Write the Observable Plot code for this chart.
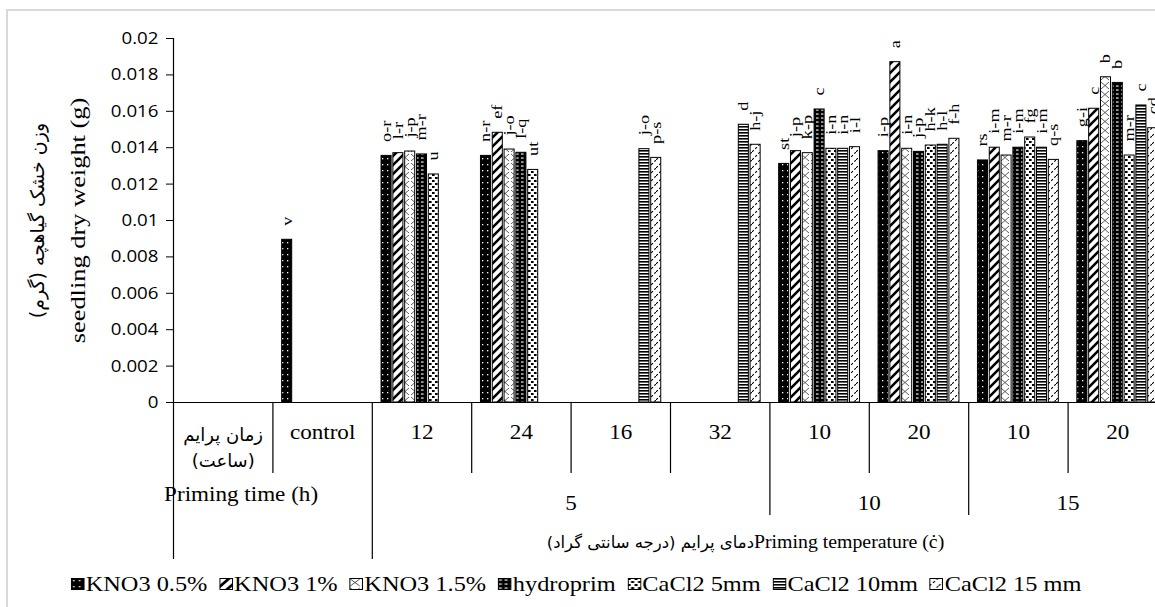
<!DOCTYPE html>
<html>
<head>
<meta charset="utf-8">
<script src="https://cdn.jsdelivr.net/npm/d3@7"></script>
<script src="https://cdn.jsdelivr.net/npm/@observablehq/plot@0.6"></script>
<style>
  html, body { margin: 0; padding: 0; background: #fff; }
  #wrap { position: relative; width: 1155px; height: 607px; overflow: hidden; background: #fff; }
  #chart { position: absolute; left: 0; top: 0; }
  #frame { position: absolute; left: 6px; top: 9px; width: 1400px; height: 800px;
           border-left: 2px solid #d9d9d9; border-top: 2px solid #d9d9d9; pointer-events: none; }
  #legend { position: absolute; left: 0; top: 565px; width: 1155px; height: 38px;
            display: flex; justify-content: center; align-items: center;
            font-family: "Liberation Serif", serif; font-size: 21px; color: #000;
            transform: scaleX(1.16); transform-origin: 587px 50%; white-space: nowrap; }
  .item { display: flex; align-items: center; margin: 0 5px; }
  .item svg { margin-right: 1px; display: block; }
</style>
</head>
<body>
<svg width="0" height="0" style="position:absolute">
  <defs>
    <pattern id="pat0" width="5" height="6" patternUnits="userSpaceOnUse">
      <rect width="5" height="6" fill="#000"/><rect x="2" y="2" width="1.3" height="1.3" fill="#fff"/>
    </pattern>
    <pattern id="pat1" width="9" height="9" patternUnits="userSpaceOnUse">
      <rect width="9" height="9" fill="#fff"/>
      <path d="M-2,2 L2,-2 M0,9 L9,0 M7,11 L11,7" stroke="#000" stroke-width="2.6"/>
    </pattern>
    <pattern id="pat2" width="10" height="9" patternUnits="userSpaceOnUse">
      <rect width="10" height="9" fill="#fff"/>
      <path d="M1,1 L9,8 M9,1 L1,8" stroke="#333" stroke-width="0.8"/>
    </pattern>
    <pattern id="pat3" width="5" height="4" patternUnits="userSpaceOnUse">
      <rect width="5" height="4" fill="#000"/><rect x="1" y="1.5" width="2.6" height="1.1" fill="#fff"/>
    </pattern>
    <pattern id="pat4" width="6" height="6" patternUnits="userSpaceOnUse">
      <rect width="6" height="6" fill="#fff"/>
      <rect x="0" y="0" width="2.6" height="2" fill="#000"/><rect x="3" y="3" width="2.6" height="2" fill="#000"/>
    </pattern>
    <pattern id="pat5" width="4" height="3" patternUnits="userSpaceOnUse">
      <rect width="4" height="3" fill="#fff"/><rect x="0" y="0" width="4" height="1.6" fill="#000"/>
    </pattern>
    <pattern id="pat6" width="8" height="8" patternUnits="userSpaceOnUse">
      <rect width="8" height="8" fill="#fff"/>
      <path d="M0,8 L8,0" stroke="#000" stroke-width="1.1" stroke-dasharray="2.5,2"/>
    </pattern>
  </defs>
</svg>
<div id="wrap"><div id="chart"></div><div id="legend"></div><div id="frame"></div></div>
<script>
// ---------- data ----------
const categoryLabels = ["زمان پرایم\n(ساعت)", "control", "12", "24", "16", "32", "10", "20", "10", "20"];
const temperatureLabels = ["5", "10", "15"];
const temperatureSpans = [[2, 6], [6, 8], [8, 10]];
const series = ["KNO3 0.5%", "KNO3 1%", "KNO3 1.5%", "hydroprim", "CaCl2 5mm", "CaCl2 10mm", "CaCl2 15 mm"];

const kno3_05   = [null, 0.00894, 0.01355, 0.01355, null, null, 0.01311, 0.01381, 0.01330, 0.01436];
const kno3_1    = [null, null, 0.01370, 0.01482, null, null, 0.01381, 0.01870, 0.01400, 0.01614];
const kno3_15   = [null, null, 0.01379, 0.01390, null, null, 0.01370, 0.01394, 0.01357, 0.01787];
const hydroprim = [null, null, 0.01363, 0.01372, null, null, 0.01610, 0.01377, 0.01400, 0.01756];
const cacl2_5   = [null, null, 0.01253, 0.01278, null, null, 0.01394, 0.01412, 0.01456, 0.01357];
const cacl2_10  = [null, null, null, null, 0.01392, 0.01526, 0.01394, 0.01416, 0.01400, 0.01632];
const cacl2_15  = [null, null, null, null, 0.01344, 0.01416, 0.01403, 0.01449, 0.01333, 0.01507];

const kno3_05Letters   = [null, "v", "o-r", "n-r", null, null, "st", "i-p", "rs", "g-i"];
const kno3_1Letters    = [null, null, "l-r", "ef", null, null, "j-p", "a", "i-m", "c"];
const kno3_15Letters   = [null, null, "j-p", "j-o", null, null, "k-p", "i-n", "m-r", "b"];
const hydroprimLetters = [null, null, "m-r", "l-q", null, null, "c", "j-p", "i-m", "b"];
const cacl2_5Letters   = [null, null, "u", "ut", null, null, "i-n", "h-k", "fg", "m-r"];
const cacl2_10Letters  = [null, null, null, null, "j-o", "d", "i-n", "h-l", "i-m", "c"];
const cacl2_15Letters  = [null, null, null, null, "p-s", "h-j", "i-l", "f-h", "q-s", "cd"];

const yTicks = [0, 0.002, 0.004, 0.006, 0.008, 0.01, 0.012, 0.014, 0.016, 0.018, 0.02];
const yTickLabels = ["0", "0.002", "0.004", "0.006", "0.008", "0.01", "0.012", "0.014", "0.016", "0.018", "0.02"];

const yTitle = "seedling dry weight (g)";
const yTitleFa = "وزن خشک گیاهچه (گرم)";
const timeTitle = "Priming time (h)";
const tempTitle = "Priming temperature (ċ)";
const tempTitleFa = "دمای پرایم (درجه سانتی گراد)";

// ---------- build ----------
const values = [kno3_05, kno3_1, kno3_15, hydroprim, cacl2_5, cacl2_10, cacl2_15];
const letters = [kno3_05Letters, kno3_1Letters, kno3_15Letters, hydroprimLetters, cacl2_5Letters, cacl2_10Letters, cacl2_15Letters];
const rows = [];
series.forEach((s, si) => values[si].forEach((v, ci) => {
  if (v != null) rows.push({s, si, ci, v, letter: letters[si][ci]});
}));
const patternUrls = series.map((s, i) => `url(#pat${i})`);

const isFa = s => /[\u0600-\u06FF]/.test(s);
const rtl = s => isFa(s) ? s.split("\n").map(l => "\u200F" + l + "\u200F").join("\n") : s;
const inner = d3.scaleBand().domain(series).range([0, 1]).paddingInner(0.15).paddingOuter(0.784);
const bx1 = d => d.ci + inner(d.s);
const bx2 = d => d.ci + inner(d.s) + inner.bandwidth();
const bxm = d => d.ci + inner(d.s) + inner.bandwidth() / 2;

const shortBounds = [1, 3, 4, 5, 7, 9];
const midBounds = [6, 8];
const longBounds = [2];
const faFont = "'DejaVu Sans', sans-serif";
const serifFont = "'Liberation Serif', serif";

const chart = Plot.plot({
  width: 1155, height: 568,
  marginTop: 38, marginBottom: 166, marginLeft: 173, marginRight: 0,
  style: {fontFamily: serifFont, fontSize: "20px", color: "#000", background: "transparent"},
  x: {domain: [0, 10], range: [173, 1167], axis: null},
  y: {domain: [0, 0.02], axis: null},
  color: {domain: series, range: patternUrls},
  marks: [
    Plot.rect(rows, {x1: bx1, x2: bx2, y1: 0, y2: "v", fill: "s", stroke: "#000", strokeWidth: 1}),
    Plot.axisY({ticks: yTicks, tickFormat: d => yTickLabels[yTicks.indexOf(d)], tickSize: 7, tickPadding: 8,
                fontFamily: "Open Sans", fontSize: 17, label: null, anchor: "left"}),
    Plot.ruleX([0], {y1: 0.02, y2: 0, insetBottom: -157, stroke: "#000", strokeWidth: 1.2}),
    Plot.ruleY([0], {x1: 0, x2: 10, stroke: "#000", strokeWidth: 1.2}),
    Plot.ruleX(shortBounds, {y1: 0, y2: 0, insetBottom: -71, stroke: "#000", strokeWidth: 1.2}),
    Plot.ruleX(midBounds, {y1: 0, y2: 0, insetBottom: -113, stroke: "#000", strokeWidth: 1.2}),
    Plot.ruleX(longBounds, {y1: 0, y2: 0, insetBottom: -157, stroke: "#000", strokeWidth: 1.2}),
    Plot.text(rows.filter(d => d.letter), {x: bxm, y: "v", text: "letter", rotate: -90, textAnchor: "start",
              dy: -14, fontSize: 14, fontFamily: serifFont}),
    Plot.text(categoryLabels, {filter: d => !isFa(d), x: (d, i) => i + 0.5, y: 0, lineAnchor: "top", dy: 22,
              fontSize: 21, fontFamily: serifFont}),
    Plot.text(categoryLabels, {filter: d => isFa(d), x: (d, i) => i + 0.5, y: 0, text: d => rtl(d), lineAnchor: "top",
              dy: 21, lineHeight: 1.4, fontSize: 18, fontFamily: faFont}),
    Plot.text([timeTitle], {x: 0.68, y: 0, dy: 92, fontSize: 21, fontFamily: serifFont}),
    Plot.text(temperatureLabels, {x: (d, i) => (temperatureSpans[i][0] + temperatureSpans[i][1]) / 2, y: 0, dy: 101,
              fontSize: 21, fontFamily: serifFont}),
    Plot.text([rtl(tempTitleFa)], {x: 5.84, y: 0, dy: 140, textAnchor: "end", fontSize: 16.5, fontFamily: faFont}),
    Plot.text([tempTitle], {x: 5.84, y: 0, dy: 140, textAnchor: "start", fontSize: 18, fontFamily: serifFont}),
    Plot.text([yTitle], {x: 0, y: 0.01, dx: -96, rotate: -90, fontSize: 22, fontFamily: serifFont}),
    Plot.text([rtl(yTitleFa)], {x: 0, y: 0.01, dx: -136, rotate: -90, fontSize: 19, fontFamily: faFont})
  ]
});
document.getElementById("chart").append(chart);

// widen glyphs slightly, as in the reference rendering
function stretchEl(el, k) {
  const L = el.getComputedTextLength();
  if (L > 0) { el.setAttribute("textLength", (L * k).toFixed(2)); el.setAttribute("lengthAdjust", "spacingAndGlyphs"); }
}
chart.querySelectorAll("text").forEach(t => {
  const content = t.textContent;
  const rotated = (t.getAttribute("transform") || "").includes("rotate");
  let k = 1.1;
  if (isFa(content)) k = 1.0;
  else if (content === yTitle) k = 1.2;
  else if (rotated) k = 1.3;
  const parts = t.querySelectorAll("tspan");
  (parts.length ? Array.from(parts) : [t]).forEach(el => stretchEl(el, k));
});

// legend
const legend = d3.select("#legend");
series.forEach((s, i) => {
  const item = legend.append("div").attr("class", "item");
  const sw = item.append("svg").attr("width", 12).attr("height", 12);
  sw.append("rect").attr("x", 0.5).attr("y", 0.5).attr("width", 11).attr("height", 11)
    .attr("fill", patternUrls[i]).attr("stroke", "#000");
  item.append("span").text(s);
});
</script>
</body>
</html>
